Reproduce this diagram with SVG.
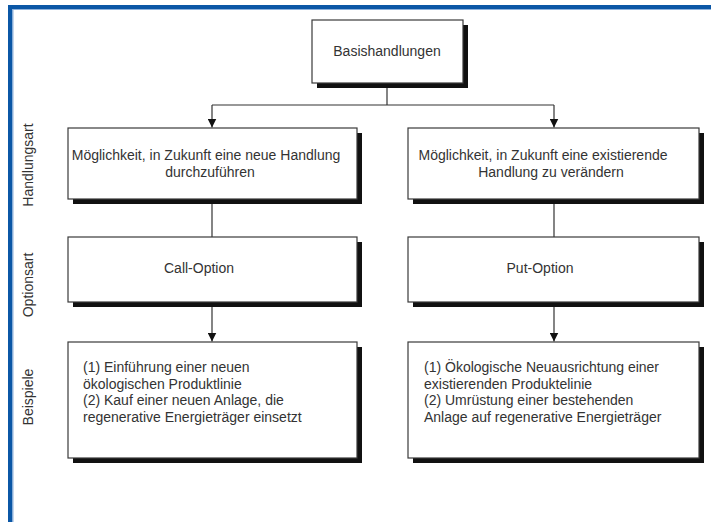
<svg xmlns="http://www.w3.org/2000/svg" width="711" height="522" viewBox="0 0 711 522">
<defs>
<style>
.box{fill:#fff;stroke:#3a3a3a;stroke-width:1.2}
.sh{fill:#111}
.t{font-family:"Liberation Sans",Arial,sans-serif;font-size:14px;fill:#333}
.c{text-anchor:middle}
.side{font-family:"Liberation Sans",Arial,sans-serif;font-size:14px;fill:#333;text-anchor:middle}
.ln{fill:none;stroke:#333;stroke-width:1.2}
</style>
<marker id="ah" viewBox="0 0 10 10" refX="10" refY="5" markerWidth="9" markerHeight="9" markerUnits="userSpaceOnUse" orient="auto">
<path d="M0,0 L10,5 L0,10 Z" fill="#111"/>
</marker>
</defs>
<rect x="0" y="0" width="711" height="522" fill="#fff"/>
<g id="frame">
<rect x="8" y="5" width="703" height="4" fill="#0b57a6"/>
<rect x="8" y="5" width="4.5" height="517" fill="#0b57a6"/>
<line x1="12.5" y1="9.5" x2="711" y2="9.5" stroke="#8fb2dc" stroke-width="1"/>
<line x1="13" y1="9.5" x2="13" y2="522" stroke="#8fb2dc" stroke-width="1"/>
</g>
<g id="side-labels">
<text class="side" transform="translate(33,165) rotate(-90)">Handlungsart</text>
<text class="side" transform="translate(33,285) rotate(-90)">Optionsart</text>
<text class="side" transform="translate(33,397) rotate(-90)">Beispiele</text>
</g>
<g id="connectors">
<line class="ln" x1="387" y1="83" x2="387" y2="105"/>
<line class="ln" x1="212" y1="105" x2="554" y2="105"/>
<line class="ln" x1="212" y1="105" x2="212" y2="127.5" marker-end="url(#ah)"/>
<line class="ln" x1="554" y1="105" x2="554" y2="127.5" marker-end="url(#ah)"/>
<line class="ln" x1="212" y1="199" x2="212" y2="237"/>
<line class="ln" x1="554" y1="199" x2="554" y2="237"/>
<line class="ln" x1="212" y1="302" x2="212" y2="341.5" marker-end="url(#ah)"/>
<line class="ln" x1="554" y1="302" x2="554" y2="341.5" marker-end="url(#ah)"/>
</g>
<g id="basis">
<rect class="sh" x="317" y="25" width="151" height="63"/>
<rect class="box" x="312" y="20" width="151" height="63"/>
<text class="t c" x="387" y="55.5">Basishandlungen</text>
</g>
<g id="handlung-neu">
<rect class="sh" x="73" y="133" width="289" height="71"/>
<rect class="box" x="68" y="128" width="289" height="71"/>
<text class="t c" x="206" y="160">Möglichkeit, in Zukunft eine neue Handlung</text>
<text class="t c" x="210" y="177">durchzuführen</text>
</g>
<g id="handlung-aendern">
<rect class="sh" x="413" y="133" width="291" height="71"/>
<rect class="box" x="408" y="128" width="291" height="71"/>
<text class="t c" x="543" y="160">Möglichkeit, in Zukunft eine existierende</text>
<text class="t c" x="551" y="177">Handlung zu verändern</text>
</g>
<g id="call">
<rect class="sh" x="73" y="242" width="289" height="65"/>
<rect class="box" x="68" y="237" width="289" height="65"/>
<text class="t c" x="199" y="273">Call-Option</text>
</g>
<g id="put">
<rect class="sh" x="413" y="242" width="291" height="65"/>
<rect class="box" x="408" y="237" width="291" height="65"/>
<text class="t c" x="540" y="273">Put-Option</text>
</g>
<g id="beispiele-call">
<rect class="sh" x="73" y="347" width="289" height="116"/>
<rect class="box" x="68" y="342" width="289" height="116"/>
<text class="t" x="83" y="372">(1) Einführung einer neuen</text>
<text class="t" x="83" y="388.5">ökologischen Produktlinie</text>
<text class="t" x="83" y="405">(2) Kauf einer neuen Anlage, die</text>
<text class="t" x="83" y="421.5">regenerative Energieträger einsetzt</text>
</g>
<g id="beispiele-put">
<rect class="sh" x="413" y="347" width="291" height="116"/>
<rect class="box" x="408" y="342" width="291" height="116"/>
<text class="t" x="424" y="372">(1) Ökologische Neuausrichtung einer</text>
<text class="t" x="424" y="388.5">existierenden Produktelinie</text>
<text class="t" x="424" y="405">(2) Umrüstung einer bestehenden</text>
<text class="t" x="424" y="421.5">Anlage auf regenerative Energieträger</text>
</g>
</svg>
